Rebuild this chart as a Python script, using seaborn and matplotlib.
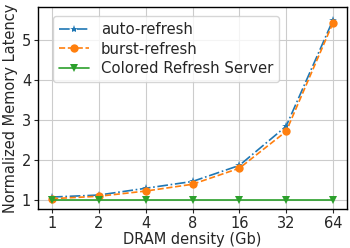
import numpy as np
import pandas as pd
import matplotlib
matplotlib.use('Agg')
import matplotlib.pyplot as plt
import seaborn as sns

# data
densities = ['1', '2', '4', '8', '16', '32', '64']
auto_refresh = [1.08, 1.13, 1.30, 1.47, 1.87, 2.85, 5.50]
burst_refresh = [1.04, 1.10, 1.23, 1.40, 1.80, 2.72, 5.43]
colored_server = [1.00, 1.00, 1.00, 1.00, 1.00, 1.00, 1.00]

sns.set_style('whitegrid', {'axes.edgecolor': 'black', 'grid.color': '#cccccc'})
plt.rcParams['font.family'] = ['DejaVu Sans']

pos = np.arange(len(densities))
fig, ax = plt.subplots(figsize=(3.5, 2.48), dpi=100)

pal = sns.color_palette('tab10')
series = [
    (auto_refresh, 'auto-refresh', pal[0], '-.', '*'),
    (burst_refresh, 'burst-refresh', pal[1], '--', 'o'),
    (colored_server, 'Colored Refresh Server', pal[2], '-', 'v'),
]
for vals, name, c, ls, mk in series:
    sns.lineplot(x=pos, y=vals, ax=ax, color=c, marker=mk,
                 markersize=6, markeredgewidth=0, linewidth=1.2, label=name)
    ax.lines[-1].set_linestyle(ls)

ax.set_xticks(pos)
ax.set_xticklabels(densities)
ax.set_xlim(-0.3, 6.3)
ax.set_ylim(0.78, 5.83)
ax.set_yticks([1, 2, 3, 4, 5])
ax.tick_params(labelsize=10.5, length=3, left=True, bottom=True, pad=2)
ax.set_xlabel('DRAM density (Gb)', fontsize=10.5, labelpad=1)
ax.set_ylabel('Normalized Memory Latency', fontsize=10.5, labelpad=3)
for s in ax.spines.values():
    s.set_linewidth(1.0)
leg = ax.legend(loc='upper left', bbox_to_anchor=(0.0485, 0.955), borderaxespad=0,
                fontsize=10.75, handlelength=2, borderpad=0.4, labelspacing=0.3)
for h, (vals, name, c, ls, mk) in zip(leg.get_lines(), series):
    h.set_linestyle(ls)

fig.subplots_adjust(left=0.1086, right=0.9914, top=0.9718, bottom=0.157)
plt.savefig('out.png', dpi=100)
